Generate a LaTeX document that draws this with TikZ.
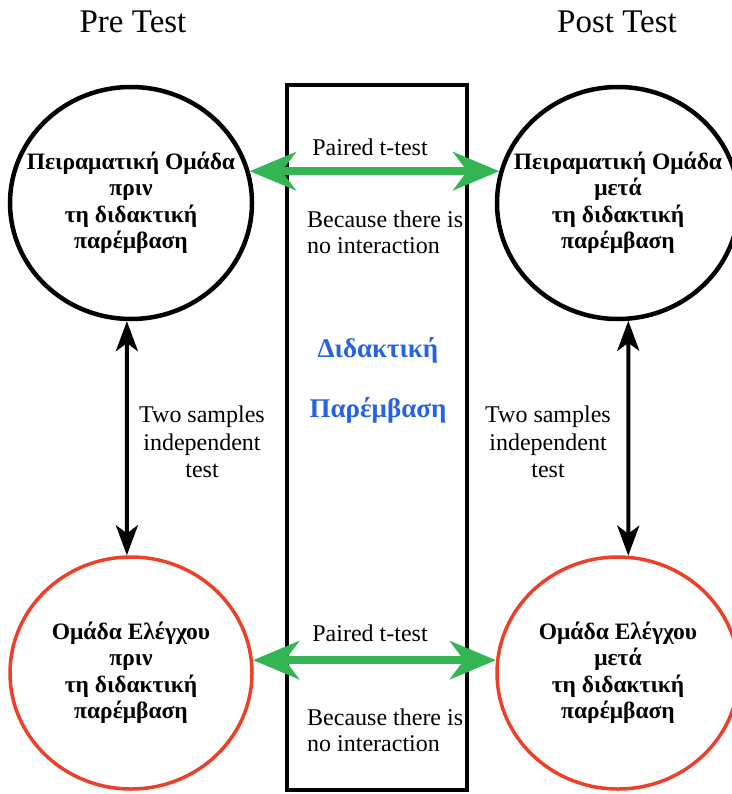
\documentclass[tikz,border=0pt]{standalone}
\usepackage{fontspec}
\setmainfont{Liberation Serif}
\usetikzlibrary{shapes.geometric, arrows.meta, positioning}

\definecolor{arrowgreen}{RGB}{52,181,84}
\definecolor{ctrlred}{RGB}{236,64,42}
\definecolor{labelblue}{RGB}{38,98,230}

\begin{document}
\begin{tikzpicture}[
    x=1pt, y=-1pt,
    % Styles
    groupbox/.style={ellipse, draw=black, line width=4.5pt, minimum width=242pt, minimum height=232pt, inner sep=-40pt, align=center, font=\bfseries\fontsize{23.5}{26.5}\selectfont},
    ctrlbox/.style={groupbox, draw=ctrlred, line width=3.5pt},
    phasebox/.style={rectangle, draw=black, line width=4pt, minimum width=180pt, minimum height=705pt, inner sep=0pt},
    testlabel/.style={font=\fontsize{24}{26}\selectfont, align=left, inner sep=0pt},
    sidelabel/.style={font=\fontsize{24}{27.5}\selectfont, align=center, inner sep=0pt},
    headlabel/.style={font=\fontsize{33}{36}\selectfont, inner sep=0pt},
    interlabel/.style={font=\bfseries\fontsize{27}{30}\selectfont, text=labelblue, inner sep=0pt},
    pairarrow/.style={{Stealth[length=46pt, width=38pt, inset=14pt]}-{Stealth[length=46pt, width=38pt, inset=14pt]}, line width=8.5pt, arrowgreen},
    indarrow/.style={{Stealth[length=30pt, width=22pt, inset=8pt]}-{Stealth[length=30pt, width=22pt, inset=8pt]}, line width=4pt, black}
]
\useasboundingbox (0,0) rectangle (731,794);

% -------------------------
% Intervention column
% -------------------------
\node[phasebox] (interv) at (377,437.5) {};
\node[interlabel] (didak) at (378,350) {Διδακτική};
\node[interlabel] (parem) at (378,410) {Παρέμβαση};

% -------------------------
% Groups (Pre / Post)
% -------------------------
\node[groupbox] (expPre) at (131,203) {Πειραματική Ομάδα\\πριν\\τη διδακτική\\παρέμβαση};
\node[groupbox] (expPost) at (618,203) {Πειραματική Ομάδα\\μετά\\τη διδακτική\\παρέμβαση};
\node[ctrlbox] (ctrlPre) at (131,673) {Ομάδα Ελέγχου\\πριν\\τη διδακτική\\παρέμβαση};
\node[ctrlbox] (ctrlPost) at (618,673) {Ομάδα Ελέγχου\\μετά\\τη διδακτική\\παρέμβαση};

\node[headlabel] (pre) at (133,22) {Pre Test};
\node[headlabel] (post) at (617,22) {Post Test};

% -------------------------
% Connections
% -------------------------
\draw[pairarrow] (expPre.15) -- (expPost.165);
\draw[pairarrow] (ctrlPre.6) -- (ctrlPost.174);
\draw[indarrow] (expPre.-92.5) -- (ctrlPre.92.5);
\draw[indarrow] (expPost.-85) -- (ctrlPost.85);

% Labels of the tests
\node[testlabel] (pairTop) at (370,147) {Paired t-test};
\node[testlabel, anchor=base west] (whyTop) at (307,253) {Because there is\\no interaction};
\node[testlabel] (pairBot) at (370,633) {Paired t-test};
\node[testlabel, anchor=base west] (whyBot) at (307,751) {Because there is\\no interaction};

\node[sidelabel] (indLeft) at (202,442) {Two samples\\independent\\test};
\node[sidelabel] (indRight) at (548,442) {Two samples\\independent\\test};

\end{tikzpicture}
\end{document}
